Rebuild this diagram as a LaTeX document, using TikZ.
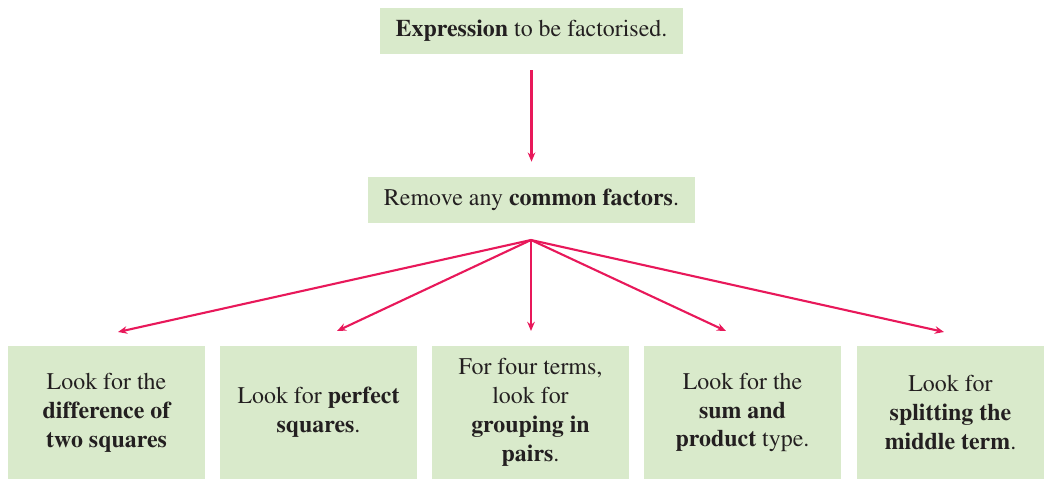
\documentclass[tikz,border=0pt]{standalone}
\usepackage[T1]{fontenc}
\usepackage{times}
\usepackage{xcolor}
\usetikzlibrary{arrows.meta,positioning}
\definecolor{ink}{HTML}{231F20}
\definecolor{leaf}{HTML}{D9EACB}
\definecolor{rose}{HTML}{E8185A}
\tikzset{
  >={Stealth[length=2.3mm,width=1.9mm]},
  stepbox/.style={fill=leaf,inner sep=0pt,align=center,text=ink,
    font=\fontsize{17}{20.6}\selectfont},
  tipbox/.style={stepbox,minimum width=4.925cm,minimum height=3.325cm},
  link/.style={->,line width=1.5pt,color=rose},
}

\begin{document}
\begin{tikzpicture}[x=0.025cm,y=-0.025cm]
  \useasboundingbox (0,0) rectangle (1044,479);

  % the two steps on top
  \node[stepbox,minimum width=7.575cm,minimum height=1.15cm]
    (expr) at (531.5,31) {\textbf{Expression} to be factorised.};
  \node[stepbox,minimum width=8.175cm,minimum height=1.15cm]
    (common) at (531.5,200) {Remove any \textbf{common factors}.};

  % the five things to look for
  \node[tipbox] (diff) at (106.5,412.5) {Look for the\\\textbf{difference of}\\\textbf{two squares}};
  \node[tipbox] (perf) at (318.5,412.5) {Look for \textbf{perfect}\\\textbf{squares}.};
  \node[tipbox] (pairs) at (530.5,412.5) {For four terms,\\look for\\\textbf{grouping in}\\\textbf{pairs}.};
  \node[tipbox] (sumprod) at (742.5,412.5) {Look for the\\\textbf{sum and}\\\textbf{product} type.};
  \node[tipbox,minimum width=4.675cm] (split) at (950.5,412.5) {Look for\\\textbf{splitting the}\\\textbf{middle term}.};

  \coordinate (fan) at (531,240);
  \coordinate (toDiff) at (118,332);
  \coordinate (toPerf) at (337,331);
  \coordinate (toPairs) at (531,331);
  \coordinate (toSum) at (726,331);
  \coordinate (toSplit) at (944,332);

  \draw[link,shorten <=0.4cm,shorten >=0.375cm] (expr) -- (common);
  \draw[link] (fan) -- (toDiff);
  \draw[link] (fan) -- (toPerf);
  \draw[link] (fan) -- (toPairs);
  \draw[link] (fan) -- (toSum);
  \draw[link] (fan) -- (toSplit);
\end{tikzpicture}
\end{document}
